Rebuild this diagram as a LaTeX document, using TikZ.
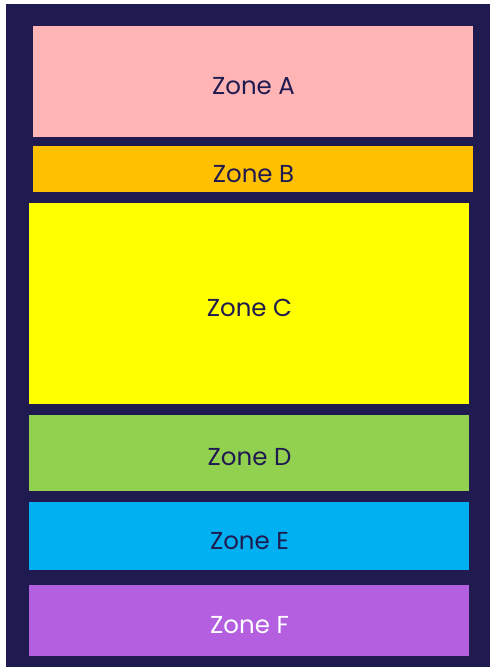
\documentclass[tikz,border=0pt]{standalone}
\usepackage{fontspec}
\setmainfont{Poppins}
\definecolor{navy}{HTML}{1F1A4F}
\definecolor{zA}{HTML}{FFB5B5}
\definecolor{zB}{HTML}{FFC000}
\definecolor{zC}{HTML}{FFFF00}
\definecolor{zD}{HTML}{92D050}
\definecolor{zE}{HTML}{00B0F0}
\definecolor{zF}{HTML}{B45FE0}
\tikzset{zone/.style={inner sep=0pt, text=navy, font=\fontsize{24.5}{28}\selectfont}}
\begin{document}
\begin{tikzpicture}[x=1pt,y=-1pt]
\useasboundingbox (0,0) rectangle (490,667);
\fill[white] (0,0) rectangle (490,667);
\fill[navy] (6,4) rectangle (490,667);
\fill[zA] (33,26) rectangle (473,137);
\fill[zB] (33,146) rectangle (473,192);
\fill[zC] (29,203) rectangle (469,404);
\fill[zD] (29,415) rectangle (469,491);
\fill[zE] (29,502) rectangle (469,570);
\fill[zF] (29,585) rectangle (469,656);
\node[zone] (a) at (253.5,86) {Zone A};
\node[zone] (b) at (253.5,174) {Zone B};
\node[zone] (c) at (249.5,308) {Zone C};
\node[zone] (d) at (249.5,457) {Zone D};
\node[zone] (e) at (249.5,541) {Zone E};
\node[zone, text=white] (f) at (249.5,625) {Zone F};
\end{tikzpicture}
\end{document}
